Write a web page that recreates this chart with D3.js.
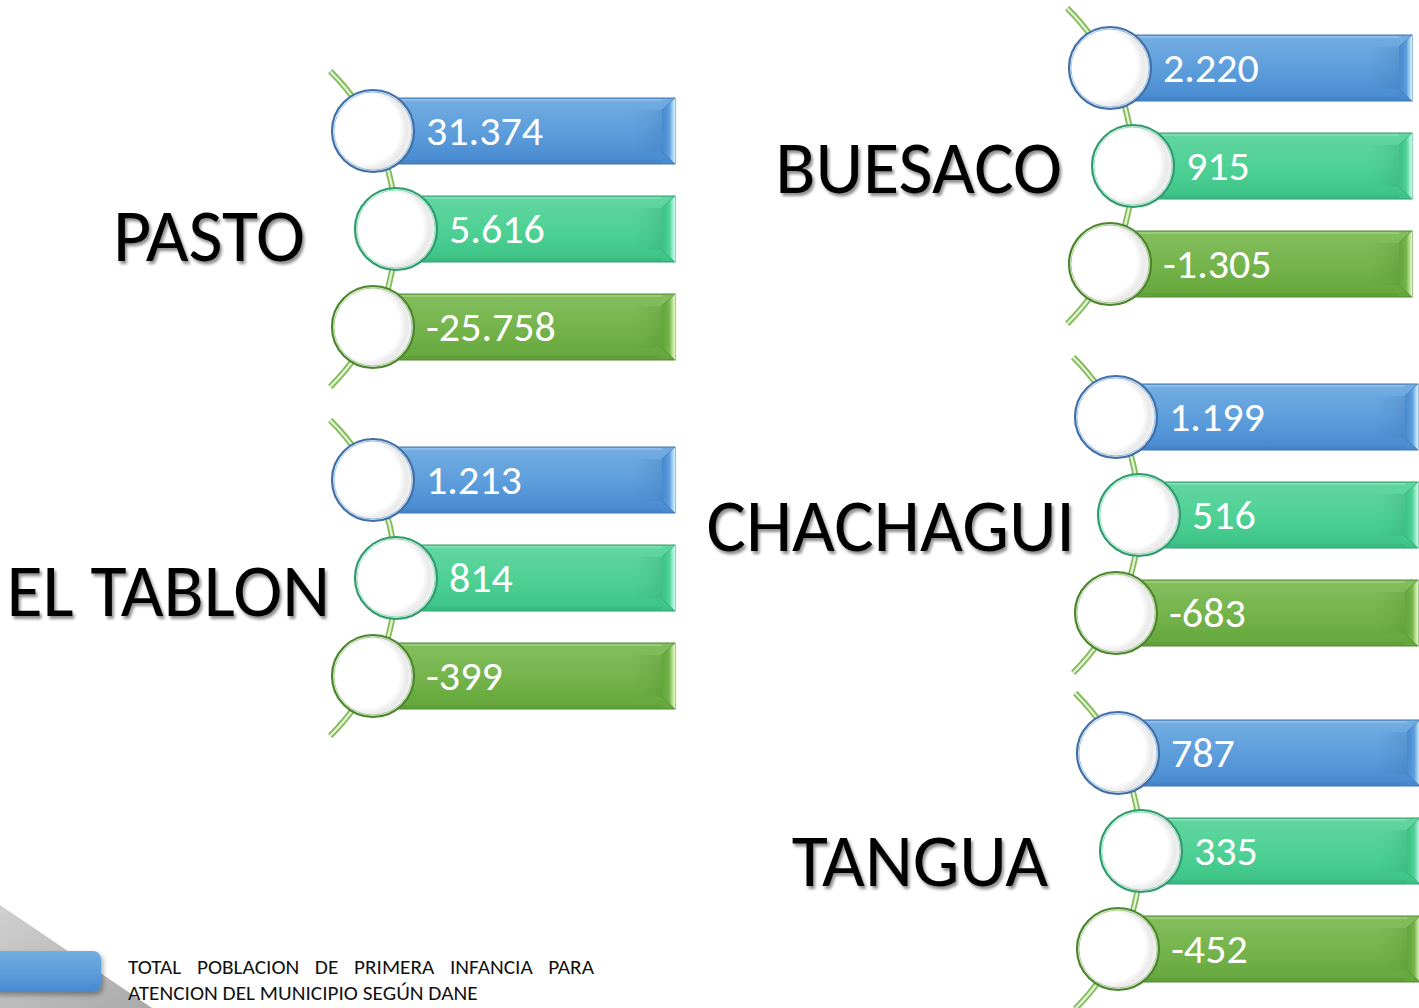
<!DOCTYPE html>
<html><head><meta charset="utf-8">
<script src="https://cdn.jsdelivr.net/npm/d3@7"></script>
<style>html,body{margin:0;padding:0;background:#fff;overflow:hidden}svg{display:block}</style>
</head><body>
<script>
// ---- data ----
const municipios = ["PASTO", "EL TABLON", "BUESACO", "CHACHAGUI", "TANGUA"];
const series = ["total", "atendidos", "diferencia"];
const valoresTotal = [31374, 1213, 2220, 1199, 787];
const valoresAtendidos = [5616, 814, 915, 516, 335];
const valoresDiferencia = [-25758, -399, -1305, -683, -452];
const notaLineas = ["TOTAL POBLACION DE PRIMERA INFANCIA PARA", "ATENCION DEL MUNICIPIO SEGÚN DANE"];

// ---- layout (not data) ----
const W = 1419, H = 1008;
const layout = [
  {cx: 373, cy: 131, lx: 305, ly: 261},
  {cx: 373, cy: 480, lx: 330, ly: 616},
  {cx: 1110, cy: 68, lx: 1062, ly: 193},
  {cx: 1116, cy: 417, lx: 1075, ly: 551},
  {cx: 1118, cy: 753, lx: 1048, ly: 886}
];
const R = 41, barH = 66, barLen = 302, arcR = 222, midShift = 23;

const fmt = d3.formatLocale({decimal: ",", thousands: ".", grouping: [3], currency: ["$", ""], minus: "-"}).format(",d");
const FONT = "Carlito, Lato, 'Open Sans', sans-serif";

const svg = d3.select("body").append("svg").attr("width", W).attr("height", H);
const defs = svg.append("defs");

const palette = {
  total:      {top: "#74aee2", mid: "#5b9cdb", bot: "#4689cf", edge: "#3d74b0", ring: "#3f6fa6", hi: "#d4f6ff"},
  atendidos:  {top: "#62d6a0", mid: "#4dd094", bot: "#3cc286", edge: "#2f9e6c", ring: "#2f9a6e", hi: "#c8fff0"},
  diferencia: {top: "#84be5e", mid: "#74b34a", bot: "#63a63a", edge: "#4e8a2e", ring: "#4a852c", hi: "#e6ffc4"}
};
const color = d3.scaleOrdinal().domain(series).range(series.map(s => palette[s]));

series.forEach(s => {
  const p = palette[s];
  const g = defs.append("linearGradient").attr("id", "bar-" + s).attr("x1", 0).attr("y1", 0).attr("x2", 0).attr("y2", 1);
  g.append("stop").attr("offset", 0).attr("stop-color", p.top);
  g.append("stop").attr("offset", 0.55).attr("stop-color", p.mid);
  g.append("stop").attr("offset", 1).attr("stop-color", p.bot);
  const b = defs.append("linearGradient").attr("id", "bev-" + s).attr("x1", 0).attr("y1", 0).attr("x2", 1).attr("y2", 0);
  b.append("stop").attr("offset", 0).attr("stop-color", p.bot);
  b.append("stop").attr("offset", 0.55).attr("stop-color", p.mid);
  b.append("stop").attr("offset", 1).attr("stop-color", p.hi);
  const sh = defs.append("linearGradient").attr("id", "sh-" + s).attr("x1", 0).attr("y1", 0).attr("x2", 1).attr("y2", 0);
  sh.append("stop").attr("offset", 0).attr("stop-color", p.bot).attr("stop-opacity", 0);
  sh.append("stop").attr("offset", 1).attr("stop-color", p.edge).attr("stop-opacity", 0.6);
});
const rg = defs.append("radialGradient").attr("id", "disc").attr("cx", "42%").attr("cy", "48%").attr("r", "58%").attr("fx", "38%").attr("fy", "45%");
rg.append("stop").attr("offset", 0).attr("stop-color", "#ffffff");
rg.append("stop").attr("offset", 0.72).attr("stop-color", "#ffffff");
rg.append("stop").attr("offset", 0.86).attr("stop-color", "#e9e9e9");
rg.append("stop").attr("offset", 1).attr("stop-color", "#f7f7f7");

const fl = defs.append("filter").attr("id", "txtsh").attr("x", "-5%").attr("y", "-10%").attr("width", "115%").attr("height", "130%");
fl.append("feGaussianBlur").attr("in", "SourceAlpha").attr("stdDeviation", 1.6).attr("result", "b");
fl.append("feOffset").attr("in", "b").attr("dx", 2).attr("dy", 2.5).attr("result", "o");
fl.append("feComponentTransfer").attr("in", "o").attr("result", "o2").append("feFuncA").attr("type", "linear").attr("slope", 0.45);
const fm = fl.append("feMerge"); fm.append("feMergeNode").attr("in", "o2"); fm.append("feMergeNode").attr("in", "SourceGraphic");

const fl2 = defs.append("filter").attr("id", "boxsh").attr("x", "-20%").attr("y", "-20%").attr("width", "150%").attr("height", "170%");
fl2.append("feDropShadow").attr("dx", 2).attr("dy", 3).attr("stdDeviation", 2.5).attr("flood-color", "#000").attr("flood-opacity", 0.35);

const grayG = defs.append("linearGradient").attr("id", "grayband").attr("x1", 0).attr("y1", 0).attr("x2", 1).attr("y2", 1);
grayG.append("stop").attr("offset", 0).attr("stop-color", "#d0d0d0");
grayG.append("stop").attr("offset", 1).attr("stop-color", "#a9a9a9");

// ---- bottom-left decoration / note ----
svg.append("path").attr("d", `M0,905 L152,${H} L0,${H} Z`).attr("fill", "url(#grayband)");
svg.append("rect").attr("x", -12).attr("y", 951).attr("width", 113).attr("height", 41).attr("rx", 8)
  .attr("fill", "url(#bar-total)").attr("filter", "url(#boxsh)");

const noteX = 128, noteRight = 594, line2W = 350;
const nota = svg.append("g").attr("font-family", FONT).attr("font-size", 19.5).attr("fill", "#111");
// measure line 2 to get horizontal glyph scale
const probe = nota.append("text").attr("x", 0).attr("y", 0).text(notaLineas[1]);
const k = line2W / probe.node().getComputedTextLength();
probe.remove();
notaLineas.forEach((t, i) => {
  const gl = nota.append("g").attr("transform", `translate(${noteX},${974 + i * 26}) scale(${k},1)`);
  const tx = gl.append("text").attr("x", 0).attr("y", 0).text(t);
  if (i === 0) {
    const len = tx.node().getComputedTextLength();
    const gaps = t.split(" ").length - 1;
    tx.attr("word-spacing", ((noteRight - noteX) / k - len) / gaps);
  }
});

// ---- groups ----
const rowY = d3.scalePoint().domain(series).range([0, 196]);
const rowX = d3.scaleOrdinal().domain(series).range([0, midShift, 0]);

municipios.forEach((name, gi) => {
  const L = layout[gi];
  const vals = {total: valoresTotal[gi], atendidos: valoresAtendidos[gi], diferencia: valoresDiferencia[gi]};
  const g = svg.append("g").attr("transform", `translate(${L.cx},${L.cy})`);

  // arc
  const acx = midShift - arcR, acy = rowY("atendidos");
  const a0 = -Math.PI / 4, a1 = Math.PI / 4;
  const arcPath = d3.path();
  arcPath.arc(acx, acy, arcR, a0 - 0.005, a1 + 0.005);
  g.append("path").attr("d", arcPath.toString()).attr("fill", "none").attr("stroke", "#82bb57").attr("stroke-width", 6);
  g.append("path").attr("d", arcPath.toString()).attr("fill", "none").attr("stroke", "#e2f2d4").attr("stroke-width", 2.4);

  // bars
  series.forEach(s => {
    const p = color(s);
    const y0 = rowY(s) - barH / 2, x0 = rowX(s), x1 = barLen;
    const bg = g.append("g");
    bg.append("rect").attr("x", x0).attr("y", y0).attr("width", x1 - x0).attr("height", barH)
      .attr("fill", `url(#bar-${s})`).attr("stroke", p.edge).attr("stroke-width", 1);
    bg.append("rect").attr("x", x0).attr("y", y0 + 1).attr("width", x1 - x0 - 13).attr("height", 2).attr("fill", "#ffffff").attr("opacity", 0.18);
    bg.append("rect").attr("x", x0).attr("y", y0 + barH - 4).attr("width", x1 - x0 - 13).attr("height", 3).attr("fill", p.edge).attr("opacity", 0.25);
    bg.append("rect").attr("x", x1 - 45).attr("y", y0 + 12).attr("width", 32).attr("height", barH - 24).attr("fill", `url(#sh-${s})`).attr("opacity", 0.5);
    bg.append("path").attr("d", `M${x1 - 13},${y0 + 12} L${x1},${y0} L${x1},${y0 + barH} L${x1 - 13},${y0 + barH - 12} Z`)
      .attr("fill", `url(#bev-${s})`);
    bg.append("path").attr("d", `M${x1 - 13},${y0 + 12} L${x1},${y0} M${x1 - 13},${y0 + barH - 12} L${x1},${y0 + barH}`)
      .attr("stroke", p.edge).attr("stroke-width", 1).attr("opacity", 0.6);
  });

  // circles
  series.forEach(s => {
    const p = color(s);
    const cx = rowX(s), cy = rowY(s);
    g.append("circle").attr("cx", cx).attr("cy", cy).attr("r", R).attr("fill", "url(#disc)")
      .attr("stroke", p.ring).attr("stroke-width", 2.2);
    g.append("circle").attr("cx", cx).attr("cy", cy).attr("r", R - 2).attr("fill", "none")
      .attr("stroke", p.mid).attr("stroke-width", 1).attr("opacity", 0.6);
  });

  // values
  series.forEach(s => {
    g.append("text").attr("x", rowX(s) + 53).attr("y", rowY(s) + 14)
      .attr("font-family", FONT).attr("font-size", 42).attr("fill", "#fff").text(fmt(vals[s]));
  });

  // label
  svg.append("text").attr("x", L.lx).attr("y", L.ly).attr("text-anchor", "end")
    .attr("font-family", FONT).attr("font-size", 74).attr("fill", "#000")
    .attr("filter", "url(#txtsh)").text(name);
});
</script>
</body></html>
